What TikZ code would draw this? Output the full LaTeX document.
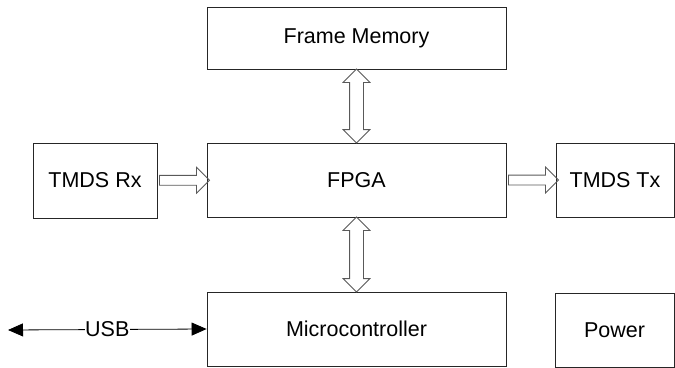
\documentclass[tikz,border=0pt]{standalone}
\usepackage{fontspec}
\setmainfont{Liberation Sans}
\usetikzlibrary{positioning}
\usetikzlibrary{calc}
\usetikzlibrary{arrows.meta}
\usetikzlibrary{shapes.arrows}

\tikzset{
  blk/.style={draw=black!85, line width=0.8pt, rectangle, inner sep=0pt,
    font=\fontsize{21.5}{24}\selectfont},
  busone/.style={single arrow, draw=black!65, line width=0.8pt, inner sep=4.5pt,
    single arrow head extend=8pt, single arrow head indent=0pt,
    single arrow tip angle=90},
  bustwo/.style={double arrow, draw=black!65, line width=0.8pt, inner sep=6.5pt,
    double arrow head extend=6.5pt, double arrow head indent=0pt,
    double arrow tip angle=90, rotate=90}
}

\begin{document}
\begin{tikzpicture}[x=1pt, y=-1pt]
          \useasboundingbox (0,0) rectangle (675,367);

          \node[blk, minimum width=299pt, minimum height=62pt] (fm) at (356.5,38) {Frame Memory};
          \node[blk, minimum width=299pt, minimum height=74pt] (fpga) at (356.5,180) {FPGA};
          \node[blk, minimum width=124pt, minimum height=75pt] (rx) at (95,180.5) {TMDS Rx};
          \node[blk, minimum width=118pt, minimum height=74pt] (tx) at (615,180) {TMDS Tx};
          \node[blk, minimum width=299pt, minimum height=74pt] (mcu) at (356.5,329) {Microcontroller};
          \node[blk, minimum width=119pt, minimum height=74pt] (pwr) at (614.5,330) {Power};

          % wide bus arrows between the blocks
          \node[busone, minimum height=50pt] (b1) at ($(rx.east)!0.5!(fpga.west)$) {};
          \node[busone, minimum height=50pt] (b2) at ($(fpga.east)!0.5!(tx.west)$) {};
          \node[bustwo, minimum height=74pt] (b3) at ($(fm.south)!0.5!(fpga.north)$) {};
          \node[bustwo, minimum height=75pt] (b4) at ($(fpga.south)!0.5!(mcu.north)$) {};

          % usb link
          \coordinate (usbend) at (8,330);
          \draw[line width=0.8pt, {Triangle[length=15pt,width=13pt]}-{Triangle[length=15pt,width=13pt]}]
            (usbend) -- (mcu.west)
            node[midway, fill=white, inner sep=0.5pt, font=\fontsize{21.5}{24}\selectfont] (usb) {USB};
        \end{tikzpicture}
\end{document}
